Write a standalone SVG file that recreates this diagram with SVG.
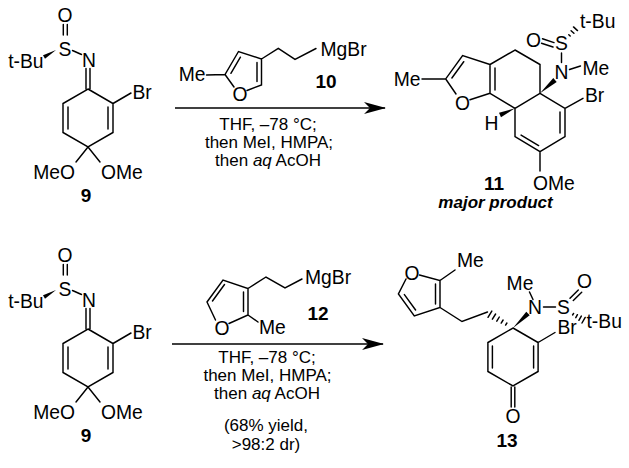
<svg xmlns="http://www.w3.org/2000/svg" width="629" height="468" viewBox="0 0 629 468">
<style>
.b{stroke:#000;stroke-width:1.45;fill:none;stroke-linecap:round}
.w{fill:#000;stroke:none}
text{font-family:"Liberation Sans",Arial,sans-serif;fill:#000}
.a{font-size:19.3px}
.m{text-anchor:middle}
.e{text-anchor:end}
.n{font-size:19px;font-weight:bold;text-anchor:middle}
.c{font-size:17px;text-anchor:middle}
.arr{stroke:#000;stroke-width:1.5;fill:none}
</style>
<defs>
<marker id="ah" viewBox="0 0 22 12" refX="21" refY="6" markerWidth="22" markerHeight="12" orient="auto" markerUnits="userSpaceOnUse">
<path d="M0,0 L22,6 L0,12 L6,6 Z" fill="#000"/>
</marker>
</defs>
<rect width="629" height="468" fill="#fff"/>

<!-- compound 9 (top) -->
<g id="cmpd9a">
<path class="b" d="M63.3,24.5 V35 M67.3,24.5 V35 M72.5,50.5 L81.5,54.5 M86,68.5 V89 M90,68.5 V89 M88,89 L113,103.5 L113,132.5 L88,147 L63,132.5 L63,103.5 Z M108,107 V129 M68,107 V129 M113,103.5 L131,93 M88,147 L76,162 M88,147 L100,162"/>
<polygon class="w" points="56,50 45,58.7 43,55.3"/>
<text class="a m" x="65" y="22">O</text>
<text class="a m" x="65" y="55.5">S</text>
<text class="a e" x="43.5" y="68">t-Bu</text>
<text class="a m" x="89" y="67">N</text>
<text class="a" x="132.5" y="98.5">Br</text>
<text class="a e" x="75" y="178.5">MeO</text>
<text class="a" x="101" y="178.5">OMe</text>
<text class="n" x="86" y="202">9</text>
</g>

<!-- reagent 10 -->
<g id="reagent10">
<path class="b" d="M206.5,75 L225,74.5 L238.5,51.5 L261.5,59 L261.5,85 L247,90.5 M234,87 L225,74.5 M230.9,73.3 L240.4,57.2 M257,62.5 V81.5 M261.5,59 L278.3,48.3 L295,59.3 L316,48.5"/>
<text class="a e" x="205.5" y="80.5">Me</text>
<text class="a m" x="240" y="100.5">O</text>
<text class="a" x="320.5" y="55.5">MgBr</text>
<text class="n" x="326" y="88">10</text>
</g>

<!-- conditions top -->
<g id="cond1">
<text class="c" x="268" y="129.5">THF, –78 °C;</text>
<text class="c" x="269" y="147.5">then MeI, HMPA;</text>
<text class="c" x="268" y="165.5">then <tspan font-style="italic">aq</tspan> AcOH</text>
</g>

<!-- product 11 -->
<g id="cmpd11">
<path class="b" d="M515,50 L540,64.5 L540,93.3 L515,108.3 L490,93.3 L490,64.5 Z M495,68 V90 M490,64.5 L462.6,55.6 L445.7,78.9 L456,94 M470,99.7 L490,93.3 M451.9,78 L463.7,61.7 M445.7,78.9 H422 M540,93.3 L565,108.3 L565,136.7 L540,151.7 L515,136.7 L515,108.3 M560,112 V133 M521.1,135.1 L538.6,145.6 M565,108.3 L583,98.3 M540,151.7 V171 M561.5,53 V62.5 M569.5,69.5 L580.5,66 M542.5,38.8 L554,42.6 M541.5,43.2 L553,47 M568.8,34.7 L570.2,36 M571.1,30.8 L573.9,33.3 M573.5,26.9 L577.5,30.6"/>
<polygon class="w" points="540,93.3 556.7,81.9 553.3,78.1"/>
<polygon class="w" points="515,108.3 501,117.3 499,112.7"/>
<text class="a" x="580" y="28">t-Bu</text>
<text class="a m" x="533.5" y="47">O</text>
<text class="a m" x="561.5" y="50">S</text>
<text class="a m" x="561.5" y="78.5">N</text>
<text class="a" x="582.5" y="75">Me</text>
<text class="a" x="585" y="102">Br</text>
<text class="a m" x="491.5" y="130">H</text>
<text class="a m" x="462.6" y="109.5">O</text>
<text class="a e" x="420.5" y="85.5">Me</text>
<text class="a" x="533" y="189.5">OMe</text>
<text class="n" x="494" y="190">11</text>
<text x="495.5" y="207.5" style="font-size:17px;font-weight:bold;font-style:italic;text-anchor:middle">major product</text>
</g>

<!-- compound 9 (bottom) -->
<g id="cmpd9b" transform="translate(0,240)">
<path class="b" d="M63.3,24.5 V35 M67.3,24.5 V35 M72.5,50.5 L81.5,54.5 M86,68.5 V89 M90,68.5 V89 M88,89 L113,103.5 L113,132.5 L88,147 L63,132.5 L63,103.5 Z M108,107 V129 M68,107 V129 M113,103.5 L131,93 M88,147 L76,162 M88,147 L100,162"/>
<polygon class="w" points="56,50 45,58.7 43,55.3"/>
<text class="a m" x="65" y="22">O</text>
<text class="a m" x="65" y="55.5">S</text>
<text class="a e" x="43.5" y="68">t-Bu</text>
<text class="a m" x="89" y="67">N</text>
<text class="a" x="132.5" y="98.5">Br</text>
<text class="a e" x="75" y="178.5">MeO</text>
<text class="a" x="101" y="178.5">OMe</text>
<text class="n" x="86" y="202">9</text>
</g>

<!-- reagent 12 -->
<g id="reagent12">
<path class="b" d="M207,302 L223,280 L248,288.5 L248,315 L229,323.5 M215.5,320 L207,302 M212.5,301 L224.5,284.5 M243.5,292 V311.5 M248,315 L258,322 M248,288.5 L266,277 L285,288 L302,279"/>
<text class="a m" x="222" y="334.5">O</text>
<text class="a" x="259" y="333.5">Me</text>
<text class="a" x="305" y="283.5">MgBr</text>
<text class="n" x="318" y="320">12</text>
</g>

<!-- conditions bottom -->
<g id="cond2">
<text class="c" x="267" y="363">THF, –78 °C;</text>
<text class="c" x="267.5" y="381">then MeI, HMPA;</text>
<text class="c" x="267" y="399">then <tspan font-style="italic">aq</tspan> AcOH</text>
<text class="c" x="266" y="431">(68% yield,</text>
<text class="c" x="266" y="450">&gt;98:2 dr)</text>
</g>

<!-- product 13 -->
<g id="cmpd13">
<path class="b" d="M419.5,275 L440,280.5 L440,307.5 L414.3,315.9 L398.4,294 L406,279 M435.5,284 V304 M415.6,310 L404.4,294.6 M440,280.5 L455,270 M440,307.5 L462,321.5 L487.5,312 M513,328 L538.1,342.5 L538.1,371.5 L513,386 L487.9,371.5 L487.9,342.5 Z M533.6,346 V368 M492.4,346 V368 M511.2,387 V407 M514.8,387 V407 M538.1,342.5 L555,332.5 M529.5,292 L533,299.5 M543.5,307 H555.5 M570,298.3 L578.3,290 M573.3,300.5 L581.7,292.2 M488,317.3 L491.8,311.1 M492.4,319.2 L495.6,314 M496.8,321.2 L499.3,317 M501.2,323.1 L503.1,320 M505.6,325.1 L506.9,323 M572.6,315 L573.6,313.4 M575.8,317.7 L577.4,314.7 M578.9,320.3 L581.3,316.1 M582,323 L585.2,317.4"/>
<polygon class="w" points="513,328 529.7,315.3 526.3,311.7"/>
<text class="a m" x="412" y="280">O</text>
<text class="a" x="457" y="267">Me</text>
<text class="a m" x="520" y="290">Me</text>
<text class="a m" x="535" y="314">N</text>
<text class="a m" x="563.5" y="314">S</text>
<text class="a m" x="584.5" y="288">O</text>
<text class="a" x="586.5" y="327.5">t-Bu</text>
<text class="a" x="557.5" y="333.5">Br</text>
<text class="a m" x="513" y="423">O</text>
<text class="n" x="507" y="447">13</text>
</g>

<!-- connectors -->
<g id="connectors">
<line class="arr" x1="175" y1="108" x2="385" y2="108" marker-end="url(#ah)"/>
<line class="arr" x1="172" y1="344" x2="383" y2="344" marker-end="url(#ah)"/>
</g>
</svg>
